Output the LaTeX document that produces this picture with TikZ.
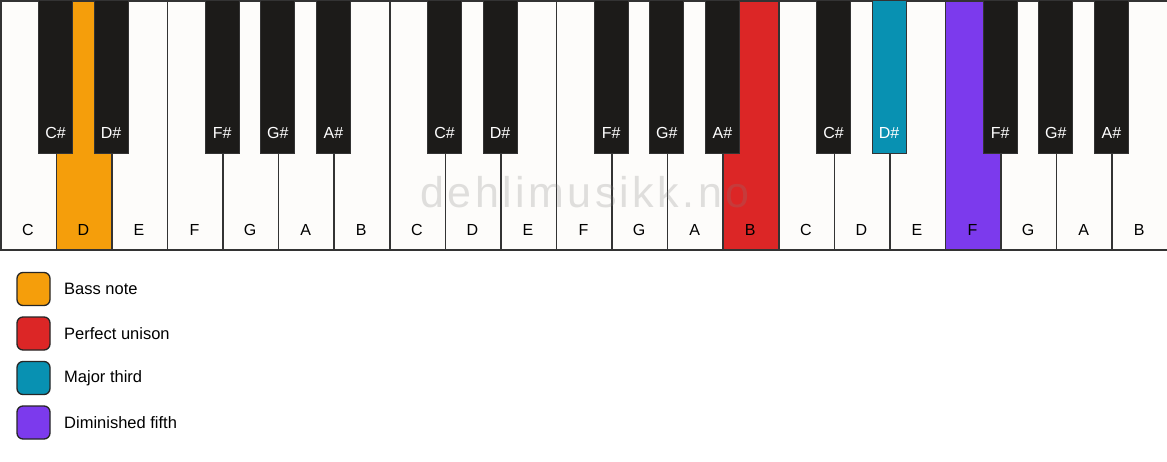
\documentclass[tikz,border=0pt]{standalone}
\usepackage{fontspec}
\setmainfont{Liberation Sans}
\newfontfamily\wmfont[LetterSpace=8]{Liberation Sans}
\definecolor{wkey}{HTML}{FDFCFA}
\definecolor{bkey}{HTML}{1C1B19}
\definecolor{keyline}{HTML}{333333}
\definecolor{bass}{HTML}{F59E0B}
\definecolor{unison}{HTML}{DC2626}
\definecolor{third}{HTML}{0891B2}
\definecolor{fifth}{HTML}{7C3AED}
\begin{document}
\begin{tikzpicture}[x=1pt,y=-1pt,
  whitekey/.style={draw=keyline, line width=1.5pt, rectangle, inner sep=0pt,
    minimum width=55.571pt, minimum height=249pt, anchor=north west},
  blackkey/.style={draw=keyline, line width=1.2pt, rectangle, inner sep=0pt,
    minimum width=34pt, minimum height=153pt, anchor=north},
  wlabel/.style={font=\fontsize{16}{16}\selectfont, text=black, inner sep=0pt},
  blabel/.style={font=\fontsize{16}{16}\selectfont, text=white, inner sep=0pt},
  legbox/.style={draw=black!85, line width=1.3pt, rounded corners=6pt, minimum width=33pt, minimum height=33pt, inner sep=0pt},
  legtext/.style={font=\fontsize{16.5}{16.5}\selectfont, anchor=west, inner sep=0pt},
  watermark/.style={font=\wmfont\fontsize{43}{43}\selectfont, text=gray, text opacity=0.24, anchor=base, inner sep=0pt}]
\useasboundingbox (0,0) rectangle (1167,461);
\fill[white] (0,0) rectangle (1167,461);
% white keys
\foreach \n/\c [count=\i from 0] in {C/wkey,D/bass,E/wkey,F/wkey,G/wkey,A/wkey,B/wkey,C/wkey,D/wkey,E/wkey,F/wkey,G/wkey,A/wkey,B/unison,C/wkey,D/wkey,E/wkey,F/fifth,G/wkey,A/wkey,B/wkey}{
  \node[whitekey, fill=\c] (wk\i) at ({\i*55.5714},0) {};
  \node[wlabel] (wl\i) at ({\i*55.5714+27.786},230) {\n};
}
% watermark
\node[watermark] (wm) at (585,207) {dehlimusikk.no};
% black keys
\foreach \b/\n/\c in {1/C\#/bkey,2/D\#/bkey,4/F\#/bkey,5/G\#/bkey,6/A\#/bkey,8/C\#/bkey,9/D\#/bkey,11/F\#/bkey,12/G\#/bkey,13/A\#/bkey,15/C\#/bkey,16/D\#/third,18/F\#/bkey,19/G\#/bkey,20/A\#/bkey}{
  \node[blackkey, fill=\c] (bk\b) at ({\b*55.5714},0) {};
  \node[blabel] (bl\b) at ({\b*55.5714},133) {\n};
}
% legend
\foreach \c/\t [count=\i from 0] in {bass/Bass note,unison/Perfect unison,third/Major third,fifth/Diminished fifth}{
  \node[legbox, fill=\c] (lb\i) at (33.5,{289+\i*44.5}) {};
  \node[legtext] (lt\i) at (64,{289+\i*44.5}) {\t};
}
\end{tikzpicture}
\end{document}
